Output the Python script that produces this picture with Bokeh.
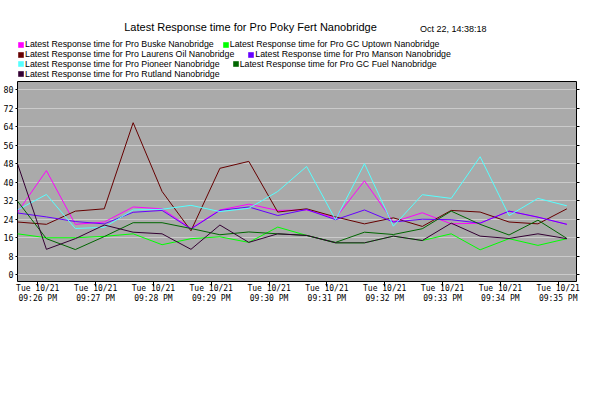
import pandas as pd
from bokeh.plotting import figure
from bokeh.layouts import column
from bokeh.models import (FixedTicker, DatetimeTickFormatter, LinearAxis, Legend,
                          LegendItem, Label, Range1d)
from bokeh.embed import file_html
from bokeh.resources import INLINE

# ---- data ----
times = pd.date_range("2025-10-21 21:25:39", periods=20, freq="30s")

names = [
    "Latest Response time for Pro Buske Nanobridge",
    "Latest Response time for Pro GC Uptown Nanobridge",
    "Latest Response time for Pro Laurens Oil Nanobridge",
    "Latest Response time for Pro Manson Nanobridge",
    "Latest Response time for Pro Pioneer Nanobridge",
    "Latest Response time for Pro GC Fuel Nanobridge",
    "Latest Response time for Pro Rutland Nanobridge",
]
colors = ["#FF00FF", "#00FF00", "#660000", "#6600FF", "#55FFFF", "#006600", "#330033"]

buske = [27, 45, 21.8, 22.8, 29.3, 28.5, 20, 28, 30.5, 27.8,
         28, 24.5, 40.6, 22.8, 26.8, 22, 22.3, 27.5, 24.9, 21.8]
uptown = [17.7, 16, 16, 16.6, 17.7, 13, 15.6, 16.4, 14, 20.6,
          17, 13.8, 13.8, 16.7, 14.8, 17.7, 10.8, 15.6, 12.7, 15.6]
laurens = [22.8, 21.8, 27.5, 28.5, 65.7, 36, 19, 46, 49, 27.1,
           28.5, 25, 22, 24.6, 20.9, 27.8, 27.1, 22.8, 22, 28.5]
manson = [26.7, 25, 23, 22, 27, 27.8, 19.8, 27.8, 29.3, 25.6,
          28.2, 23.8, 28, 22.8, 24, 23.8, 22.3, 27.5, 24.9, 21.8]
pioneer = [28, 34.7, 20, 20.5, 28, 28.3, 30, 27.3, 28.7, 36,
           46.8, 23.8, 48, 21, 34.6, 33, 51, 25.6, 33, 29.8]
fuel = [31.8, 15.6, 10.9, 16.5, 22.5, 22.5, 20, 17.3, 18.5, 17.7,
        17, 14, 18.4, 17.4, 19.9, 27.5, 21.8, 17.2, 23.6, 15.7]
rutland = [48, 11, 15.6, 21.5, 18.4, 17.7, 11, 21.5, 14, 17.7,
           17, 13.8, 13.8, 16.7, 14.8, 22.3, 16.7, 15.7, 17.7, 15.6]
series = [buske, uptown, laurens, manson, pioneer, fuel, rutland]

title_text = "Latest Response time for Pro Poky Fert Nanobridge"
stamp_text = "Oct 22, 14:38:18"
y_ticks = list(range(0, 81, 8))
x_ticks = pd.date_range("2025-10-21 21:26:00", "2025-10-21 21:35:00", freq="1min")
x_start = pd.Timestamp("2025-10-21 21:25:39")
x_end = pd.Timestamp("2025-10-21 21:35:19")

W = 616
HEAD_H = 80

# ---- header (title, timestamp, legend) ----
head = figure(width=W, height=HEAD_H, x_range=Range1d(0, 1), y_range=Range1d(0, 1),
              x_axis_location=None, y_axis_location=None, output_backend="svg",
              toolbar_location=None, title=None, min_border=0,
              outline_line_color=None, background_fill_color="white",
              border_fill_color="white")
head.grid.visible = False

# zero-area placeholder glyphs: they only supply the legend swatch styling
swatches = []
for col in colors:
    r = head.quad(left=[0], right=[0], top=[0], bottom=[0], fill_color=col,
                  line_color=None)
    swatches.append(r)

rows = [[0, 1], [2, 3], [4, 5], [6]]
row_y = [31, 21, 11.5, 1.5]
row_spacing = [8, 13, 12, 8]
for idx, vy, sp in zip(rows, row_y, row_spacing):
    items = [LegendItem(label=names[i], renderers=[swatches[i]]) for i in idx]
    lg = Legend(items=items, orientation="horizontal", location=(0, vy),
                padding=0, margin=0, spacing=sp, glyph_width=7, glyph_height=7,
                label_standoff=1, label_height=9, label_text_font="Liberation Sans",
                label_text_font_size="8.8px", label_text_color="black",
                border_line_color=None, background_fill_alpha=0)
    head.add_layout(lg, "center")

# header frame is aligned with the chart frame (starts at x=17)
head.add_layout(Label(x=233, y=HEAD_H - 26, x_units="screen", y_units="screen",
                      text=title_text, text_align="center", text_baseline="middle",
                      text_font="Liberation Sans", text_font_size="11px",
                      text_color="black"))
head.add_layout(Label(x=469, y=HEAD_H - 28, x_units="screen", y_units="screen",
                      text=stamp_text, text_align="right", text_baseline="middle",
                      text_font="Liberation Sans", text_font_size="9px",
                      text_color="black"))

# ---- main chart ----
p = figure(width=W, height=393 - HEAD_H, x_axis_type="datetime",
           x_range=Range1d(x_start, x_end), y_range=Range1d(-2.9, 83.5),
           output_backend="svg", toolbar_location=None, title=None,
           min_border_left=17, min_border_right=40, min_border_top=1,
           min_border_bottom=112, background_fill_color="#AAAAAA",
           border_fill_color="white", outline_line_color="black",
           outline_line_width=1)

for vals, col in zip(series, colors):
    p.line(times, vals, line_color=col, line_width=1)

yax = p.yaxis[0]
yax.ticker = FixedTicker(ticks=y_ticks)
yax.major_label_text_font = "DejaVu Sans Mono"
yax.major_label_text_font_size = "8.3px"
yax.major_label_text_color = "black"
yax.major_tick_out = 2
yax.major_tick_in = 0
yax.minor_tick_out = 0
yax.minor_tick_in = 0
yax.major_label_standoff = 2
yax.axis_line_color = None

rax = LinearAxis(ticker=FixedTicker(ticks=y_ticks), major_label_text_alpha=0,
                 major_label_text_font_size="1px",
                 major_tick_out=3, major_tick_in=0, minor_tick_out=0, minor_tick_in=0,
                 axis_line_color=None, major_label_standoff=0)
p.add_layout(rax, "right")

fmt = "%a %m/%d\n%I:%M %p"
xax = p.xaxis[0]
xax.ticker = FixedTicker(ticks=[int(t.value // 10**6) for t in x_ticks])
xax.formatter = DatetimeTickFormatter(seconds=fmt, minsec=fmt, minutes=fmt, hourmin=fmt,
                                      hours=fmt, days=fmt, strip_leading_zeros=False)
xax.major_label_text_font = "DejaVu Sans Mono"
xax.major_label_text_font_size = "8px"
xax.major_label_text_color = "black"
xax.major_tick_out = 5
xax.major_tick_in = 0
xax.minor_tick_out = 0
xax.minor_tick_in = 0
xax.major_label_standoff = -3
xax.axis_line_color = None

p.xgrid.visible = False
p.ygrid.grid_line_color = "#CBCBCB"
p.ygrid.grid_line_width = 1

layout = column(head, p, spacing=0)
open("out.html", "w").write(file_html(layout, INLINE))
